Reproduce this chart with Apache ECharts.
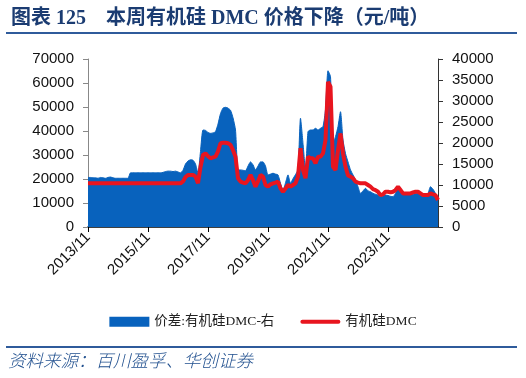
<!DOCTYPE html>
<html>
<head>
<meta charset="utf-8">
<script src="https://cdn.jsdelivr.net/npm/echarts@6/dist/echarts.min.js"></script>
<style>
  html, body { margin: 0; padding: 0; background: #fff; }
  #chart { width: 526px; height: 378px; }
</style>
</head>
<body>
<div id="chart"></div>
<script>
// 月度横轴：2013/11 ~ 2025/07
var monthStart = [2013, 11];
var monthCount = 141;
var categories = [];
for (var k = 0; k < monthCount; k++) {
  var m = monthStart[1] - 1 + k;
  var y = monthStart[0] + Math.floor(m / 12);
  categories.push(y + '/' + (m % 12 + 1));
}

// 价差:有机硅DMC（右轴）
var spreadData = [
  11800, 11800, 11700, 11700, 11600, 11800, 11700, 11600, 11800, 11900,
  11700, 11600, 11600, 11600, 11600, 11600, 11600, 12900, 12900, 12900,
  12900, 12900, 12900, 12900, 12900, 12900, 12900, 12900, 12900, 12900,
  13000, 13200, 13300, 13300, 13200, 13300, 13100, 12900, 13500, 15000,
  15700, 16000, 15900, 15000, 12800, 18000, 23100, 23000, 22500, 22300,
  22400, 22700, 24500, 27000, 28300, 28500, 28300, 27800, 26000, 23100,
  13600, 13600, 13500, 13400, 14500, 15500, 14800, 13600, 14500, 15500,
  15500, 14500, 12400, 12600, 12800, 12600, 12400, 10400, 8800, 10500,
  12400, 10400, 11500, 12500, 13600, 25900, 19900, 13600, 22700, 23100,
  23100, 23500, 23100, 23500, 23900, 28000, 37200, 35800, 19900, 21500,
  23900, 27450, 20700, 17500, 15500, 13600, 12400, 11200, 9600, 8000,
  8600, 9200, 8600, 8400, 8000, 7800, 7600, 7200, 7400, 7600,
  7500, 7300, 7200, 8000, 9200, 8300, 7600, 7600, 7600, 7600,
  7800, 8000, 8000, 7600, 7200, 7600, 8000, 9600, 9000, 8000,
  6400
];

// 有机硅DMC价格（左轴）
var dmcPrice = [
  18200, 18200, 18200, 18200, 18200, 18200, 18200, 18200, 18200, 18200,
  18200, 18200, 18200, 18200, 18200, 18200, 18200, 18200, 18200, 18200,
  18200, 18200, 18200, 18200, 18200, 18200, 18200, 18200, 18200, 18200,
  18200, 18200, 18200, 18200, 18200, 18200, 18200, 18200, 19000, 20800,
  21700, 21700, 21700, 21000, 18200, 25000, 30000, 30700, 29500, 28600,
  29000, 29300, 31500, 34900, 35100, 35100, 34900, 34200, 32000, 29300,
  20300, 18900, 18500, 18200, 19500, 21700, 19500, 16800, 19000, 21700,
  21000, 17500, 16800, 17800, 18200, 18500, 18900, 16100, 14700, 16000,
  17500, 16800, 17500, 18200, 21000, 32800, 23750, 20300, 29300, 28600,
  28600, 26500, 29300, 29300, 30700, 36250, 60500, 58500, 25100, 23750,
  32100, 39000, 30700, 25100, 21500, 21000, 20300, 18900, 18500, 18200,
  18200, 18200, 17500, 16800, 15800, 15400, 14700, 13300, 13600, 14700,
  14700, 14400, 14700, 15400, 16800, 15400, 14000, 14000, 14000, 14000,
  14400, 14700, 14700, 14000, 13300, 13300, 13300, 14000, 13600, 13300,
  11250
];

var leftTicks = { min: 0, max: 70000, interval: 10000 };
var rightTicks = { min: 0, max: 40000, interval: 5000 };

var seriesNames = ['价差:有机硅DMC-右', '有机硅DMC'];

var blue = '#0862bd';
var red = '#e8151f';
var navy = '#1b3c72';
var lineBlue = '#2f5b9b';
var numFont = 'Liberation Sans, Arial, sans-serif';
var cnFont = 'Liberation Serif, Noto Sans CJK SC, serif';

//数值标签不带千分位
function plainNum(v) {
  return String(v);
}

var chart = echarts.init(document.getElementById('chart'), null, { renderer: 'canvas' });

var option = {
  animation: false,
  backgroundColor: '#fff',
  title: {
    text: '图表 125    本周有机硅 DMC 价格下降（元/吨）',
    left: 6,
    top: 4,
    textStyle: {
      fontFamily: cnFont,
      fontSize: 20,
      fontWeight: 'bold',
      color: navy
    }
  },
  graphic: [
    //标题下横线
    { type: 'rect', shape: { x: 6, y: 32, width: 511, height: 2 }, style: { fill: lineBlue } },
    //资料来源上横线
    { type: 'rect', shape: { x: 6, y: 346, width: 511, height: 2 }, style: { fill: lineBlue } },
    {
      type: 'text', left: 8, top: 352,
      style: {
        text: '资料来源：百川盈孚、华创证券',
        fontFamily: 'Noto Sans CJK SC',
        fontStyle: 'italic',
        fontWeight: 300,
        fontSize: 17.5,
        fill: '#21508f'
      }
    }
  ],
  legend: {
    left: 'center',
    top: 310,
    itemWidth: 40,
    itemHeight: 10,
    itemGap: 26,
    textStyle: { fontFamily: cnFont, fontSize: 13.5, color: '#222' },
    data: [
      { name: seriesNames[0], icon: 'rect' },
      { name: seriesNames[1], icon: 'path://M2,0L38,0A2,2,0,0,1,38,4L2,4A2,2,0,0,1,2,0Z' }
    ]
  },
  grid: { left: 88, right: 88, top: 59, bottom: 151 },
  xAxis: {
    type: 'category',
    data: categories,
    boundaryGap: false,
    axisLine: { lineStyle: { color: '#000', width: 1.5 } },
    axisTick: { show: true, interval: 23, length: 5, lineStyle: { color: '#000' } },
    axisLabel: {
      interval: 23,
      rotate: 45,
      margin: 8,
      fontFamily: numFont,
      fontSize: 15,
      color: '#111'
    },
    splitLine: { show: false }
  },
  yAxis: [
    {
      type: 'value',
      min: leftTicks.min,
      max: leftTicks.max,
      interval: leftTicks.interval,
      axisLine: { show: true, lineStyle: { color: '#888' } },
      axisTick: { show: true, length: 5, lineStyle: { color: '#888' } },
      axisLabel: { margin: 14, fontFamily: numFont, fontSize: 15, color: '#111', formatter: plainNum },
      splitLine: { show: false }
    },
    {
      type: 'value',
      min: rightTicks.min,
      max: rightTicks.max,
      interval: rightTicks.interval,
      axisLine: { show: true, lineStyle: { color: '#333' } },
      axisTick: { show: true, length: 5, lineStyle: { color: '#333' } },
      axisLabel: { margin: 14, fontFamily: numFont, fontSize: 15, color: '#111', formatter: plainNum },
      splitLine: { show: false }
    }
  ],
  series: [
    {
      name: seriesNames[0],
      type: 'line',
      yAxisIndex: 1,
      data: spreadData,
      symbol: 'none',
      smooth: 0.2,
      color: blue,
      lineStyle: { width: 1, color: blue },
      areaStyle: { color: blue, opacity: 1 }
    },
    {
      name: seriesNames[1],
      type: 'line',
      yAxisIndex: 0,
      data: dmcPrice,
      symbol: 'none',
      color: red,
      lineStyle: { width: 4, color: red }
    }
  ]
};

chart.setOption(option);
</script>
</body>
</html>
